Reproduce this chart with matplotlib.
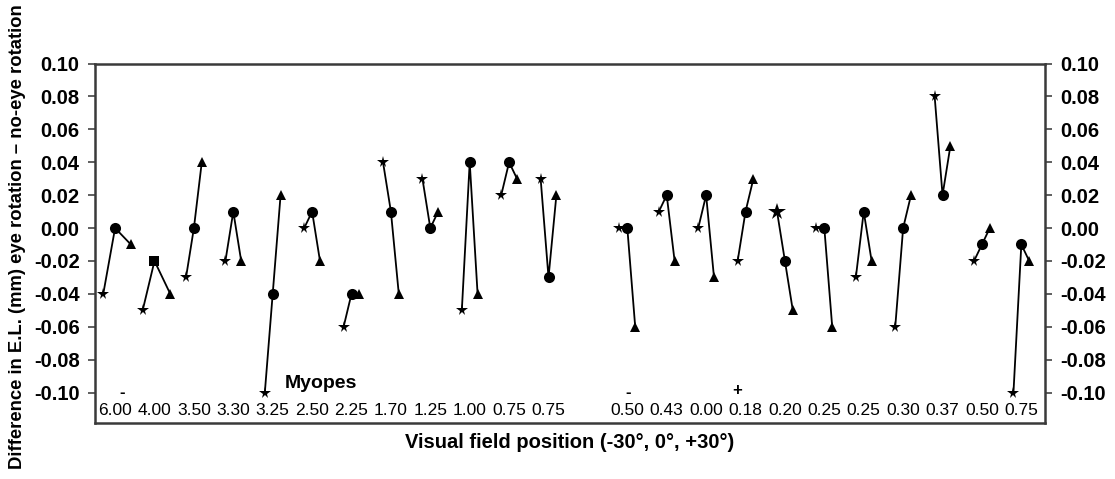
import matplotlib
matplotlib.use("Agg")
import matplotlib.pyplot as plt
from matplotlib.ticker import FormatStrFormatter

plt.rcParams['font.family'] = ['Liberation Sans', 'DejaVu Sans']

# Refractive error of each subject (D), left to right
refraction = ["6.00", "4.00", "3.50", "3.30", "3.25", "2.50", "2.25", "1.70",
              "1.25", "1.00", "0.75", "0.75",
              "0.50", "0.43", "0.00", "0.18", "0.20", "0.25", "0.25", "0.30",
              "0.37", "0.50", "0.75"]

# Difference in E.L. (mm), eye rotation minus no-eye rotation
field_minus30 = [-0.04, -0.05, -0.03, -0.02, -0.10, 0.00, -0.06, 0.04, 0.03,
                 -0.05, 0.02, 0.03,
                 0.00, 0.01, 0.00, -0.02, 0.01, 0.00, -0.03, -0.06, 0.08,
                 -0.02, -0.10]
field_0 = [0.00, -0.02, 0.00, 0.01, -0.04, 0.01, -0.04, 0.01, 0.00,
           0.04, 0.04, -0.03,
           0.00, 0.02, 0.02, 0.01, -0.02, 0.00, 0.01, 0.00, 0.02,
           -0.01, -0.01]
field_plus30 = [-0.01, -0.04, 0.04, -0.02, 0.02, -0.02, -0.04, -0.04, 0.01,
                -0.04, 0.03, 0.02,
                -0.06, -0.02, -0.03, 0.03, -0.05, -0.06, -0.02, 0.02, 0.05,
                0.00, -0.02]

# group slots (one empty slot separates the two blocks of subjects)
slots = list(range(12)) + list(range(13, 24))
# horizontal spread of the three field positions within a group
left_off = [0.3, 0.3] + [0.2] * 21
right_off = [0.4, 0.4] + [0.2] * 21
centre_marker = ['o'] * 23
centre_marker[1] = 's'
star_size = [8.5] * 23
star_size[16] = 13

fig = plt.figure(figsize=(11.15, 4.79), dpi=100)
ax = fig.add_axes([0.0852, 0.1169, 0.8520, 0.7505])

for i, x in enumerate(slots):
    xs = [x - left_off[i], x, x + right_off[i]]
    ys = [field_minus30[i], field_0[i], field_plus30[i]]
    ax.plot(xs, ys, color='black', lw=1.3, zorder=2)
    ax.plot(xs[0], ys[0], marker='*', ms=star_size[i], color='black',
            mew=0, zorder=3)
    ax.plot(xs[1], ys[1], marker=centre_marker[i],
            ms=8 if centre_marker[i] == 'o' else 6.5, color='black',
            mew=0, zorder=3)
    ax.plot(xs[2], ys[2], marker='^', ms=7.5, color='black', mew=0, zorder=3)

for i, x in enumerate(slots):
    ax.text(x, -0.1106, refraction[i], ha='center', va='center', fontsize=12.5)

ax.text(5.23, -0.0945, "Myopes", ha='center', va='center', fontsize=14,
        fontweight='bold')
ax.text(0.18, -0.0997, "-", ha='center', va='center', fontsize=12,
        fontweight='bold')
ax.text(13.02, -0.0997, "-", ha='center', va='center', fontsize=12,
        fontweight='bold')
ax.text(15.79, -0.0990, "+", ha='center', va='center', fontsize=12,
        fontweight='bold')

ax.set_xlim(-0.51, 23.6)
ax.set_ylim(-0.1185, 0.10)
ax.set_yticks([-0.10, -0.08, -0.06, -0.04, -0.02, 0.00, 0.02, 0.04, 0.06,
               0.08, 0.10])
ax.yaxis.set_major_formatter(FormatStrFormatter('%.2f'))
ax.set_xticks([])
ax.tick_params(axis='y', which='both', direction='out', length=5, width=1.2,
               color='#444444', left=True, right=True, labelleft=True,
               labelright=True, labelsize=14.5, pad=6)
for t in ax.yaxis.get_major_ticks():
    t.label1.set_fontweight('bold')
    t.label2.set_fontweight('bold')

for sp in ax.spines.values():
    sp.set_color('#3a3a3a')
    sp.set_linewidth(1.8)

ax.set_xlabel("Visual field position (-30°, 0°, +30°)", fontsize=14.5,
              fontweight='bold', labelpad=7)
fig.text(0.016, 0.505, "Difference in E.L. (mm) eye rotation \u2013 no-eye rotation",
         rotation=90, ha='center', va='center', fontsize=13.3, fontweight='bold')

fig.savefig("out.png", dpi=100)
